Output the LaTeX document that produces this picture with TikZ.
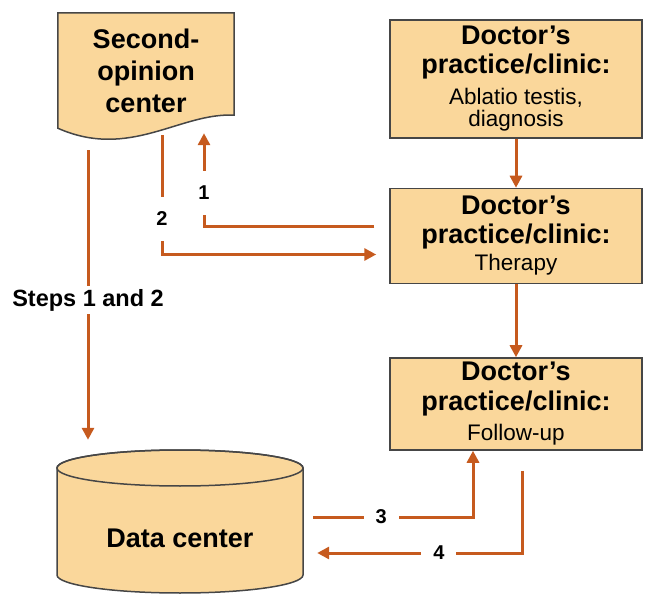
\documentclass[tikz,border=0pt]{standalone}
\usepackage{fontspec}
\setmainfont{Liberation Sans}
\usetikzlibrary{arrows.meta,positioning,backgrounds}
\definecolor{DocFill}{RGB}{250,215,155}
\definecolor{DocEdge}{RGB}{70,70,70}
\definecolor{FlowOrange}{RGB}{198,90,30}
\newcommand\sublabel{\mdseries\fontsize{22.5}{24}\selectfont}

\begin{document}
\begin{tikzpicture}[
  x=1pt, y=-1pt,
  edge/.style={draw=DocEdge, line width=1.5pt},
  box/.style={edge, fill=DocFill, minimum width=252pt, align=center, inner sep=2pt, font=\fontsize{27}{29}\selectfont\bfseries},
  doc/.style={minimum width=176pt, minimum height=115pt, align=center, inner sep=0pt, font=\fontsize{27}{32}\selectfont\bfseries},
  store/.style={minimum width=246pt, minimum height=176pt, inner sep=0pt, font=\fontsize{27}{32}\selectfont\bfseries},
  line/.style={-{Triangle[length=12pt,width=12pt]}, line width=3pt, draw=FlowOrange},
  numv/.style={fill=white, font=\fontsize{20}{24}\selectfont\bfseries, inner xsep=2pt, inner ysep=15pt},
  numh/.style={fill=white, font=\fontsize{20}{24}\selectfont\bfseries, inner xsep=12pt, inner ysep=2pt},
  steplbl/.style={fill=white, font=\fontsize{23.5}{26}\selectfont\bfseries, inner xsep=2pt, inner ysep=3.5pt}
]
\useasboundingbox (0,0) rectangle (649,599);

\node[box, minimum height=118pt] (ablatio) at (516,79) {Doctor's\\practice/clinic:\\[2pt]\sublabel Ablatio testis,\\[-7pt]\sublabel diagnosis};
\node[box, minimum height=95pt, below=49pt of ablatio] (therapy) {Doctor's\\practice/clinic:\\[-2pt]\sublabel Therapy};
\node[box, minimum height=92pt, below=73pt of therapy] (followup) {Doctor's\\[1pt]practice/clinic:\\[1pt]\sublabel Follow-up};
\node[doc] (second) at (146,70.5) {Second-\\opinion\\center};
\node[store] (data) at (180,538) {Data center};

\begin{scope}[on background layer]
\draw[edge, fill=DocFill] (second.north west) -- (second.north east) -- ([yshift=13pt]second.south east)
  .. controls +(-54pt,3pt) and +(72pt,-32pt) .. (second.south west) -- cycle;
\draw[edge, fill=DocFill] ([yshift=70pt]data.center) ++(-123pt,0pt) -- ++(0pt,-107pt)
  arc[start angle=180, end angle=360, x radius=123pt, y radius=18pt] -- ++(0pt,107pt)
  arc[start angle=0, end angle=180, x radius=123pt, y radius=18pt] -- cycle;
\draw[edge] ([yshift=70pt]data.center) ellipse[x radius=123pt, y radius=18pt];
\end{scope}

\coordinate (steps) at ([xshift=-58pt,yshift=-22pt]second.south);

\draw[line] (ablatio) -- (therapy);
\draw[line] (therapy) -- (followup);
\draw[line, shorten >=10pt] (steps) -- node[steplbl] {Steps 1 and 2} (steps |- data.north);
\draw[line, shorten <=15pt] ([yshift=9.5pt]therapy.west) -| node[pos=0.68, numv] {1} ([xshift=58pt,yshift=-5pt]second.south);
\draw[line, shorten >=13pt] ([xshift=16pt,yshift=-7pt]second.south) |- node[pos=0.35, numv] {2} ([yshift=-18.5pt]therapy.west);
\draw[line, shorten <=10pt] ([yshift=21pt]data.east) -| node[pos=0.23, numh] {3} ([xshift=-43pt]followup.south);
\draw[line, shorten <=20pt, shorten >=14pt] ([xshift=6pt]followup.south) |- node[pos=0.69, numh] {4} ([yshift=-15pt]data.east);
\end{tikzpicture}
\end{document}
